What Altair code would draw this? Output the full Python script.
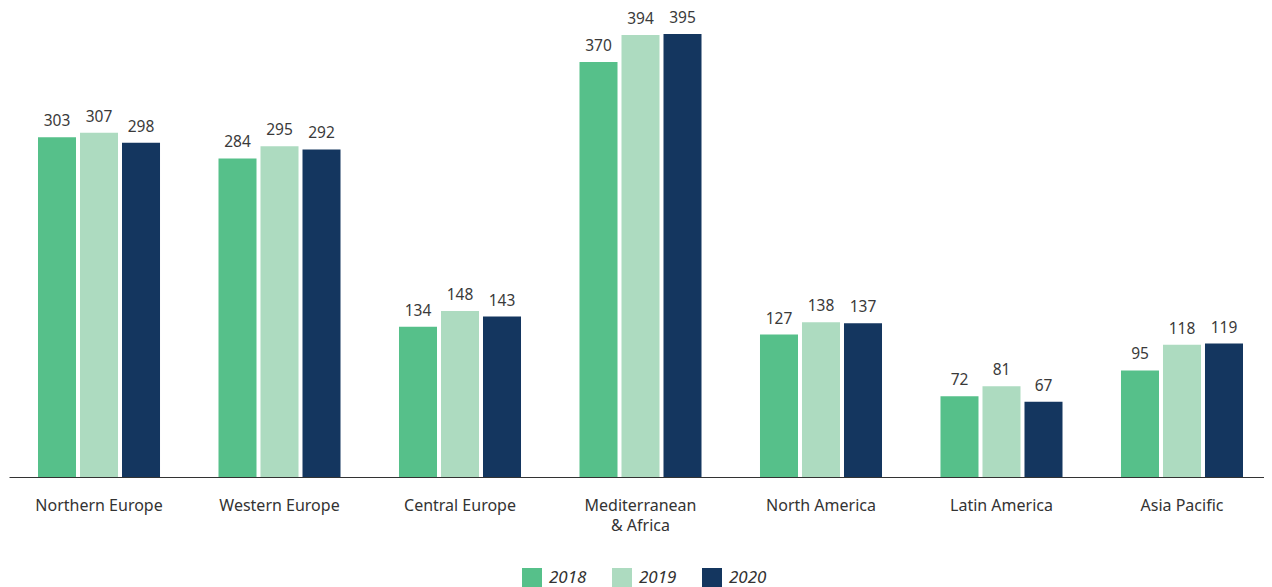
import altair as alt
import pandas as pd

regions = ["Northern Europe", "Western Europe", "Central Europe", "Mediterranean & Africa",
           "North America", "Latin America", "Asia Pacific"]
years = ["2018", "2019", "2020"]
v2018 = [303, 284, 134, 370, 127, 72, 95]
v2019 = [307, 295, 148, 394, 138, 81, 118]
v2020 = [298, 292, 143, 395, 137, 67, 119]
colors = ["#56C08A", "#ADDBC0", "#14365F"]

rows = []
for i, r in enumerate(regions):
    for y, vals in zip(years, [v2018, v2019, v2020]):
        rows.append({"region": r, "year": y, "value": vals[i]})
df = pd.DataFrame(rows)

FONT = "Noto Sans"

x = alt.X("region:N", sort=regions, title=None,
          scale=alt.Scale(paddingInner=0.324, paddingOuter=0.1385, align=0.58),
          axis=alt.Axis(labelAngle=0, ticks=False, domainColor="#333333", domainWidth=1,
                        labelFont=FONT, labelFontSize=16, labelColor="#333333",
                        labelPadding=20, labelLineHeight=20,
                        labelExpr="datum.value == 'Mediterranean & Africa' ? ['Mediterranean', '& Africa'] : datum.value"))
xo = alt.XOffset("year:N", sort=years, scale=alt.Scale(paddingInner=0.095, paddingOuter=0))
y = alt.Y("value:Q", scale=alt.Scale(domain=[0, 412.8], nice=False), axis=None)

bars = alt.Chart(df).mark_bar().encode(
    x=x, xOffset=xo, y=y,
    color=alt.Color("year:N", sort=years,
                    scale=alt.Scale(domain=years, range=colors),
                    legend=alt.Legend(title=None, orient="none", direction="horizontal",
                                      legendX=513, legendY=554,
                                      symbolType="square", symbolSize=400, symbolStrokeWidth=0,
                                      symbolOpacity=1,
                                      labelFont=FONT, labelFontSize=17, labelFontStyle="italic",
                                      labelColor="#333333", labelOffset=7, columnPadding=25)),
)

labels = alt.Chart(df).mark_text(baseline="bottom", dy=-8, font=FONT, fontSize=15.5,
                                 color="#3a3a3a").encode(
    x=x, xOffset=xo, y=y, text="value:Q")

chart = (bars + labels).properties(
    width=1255, height=463,
    padding={"left": 1, "top": 2, "right": 0, "bottom": 0},
    background="white",
).configure_view(stroke=None)

chart.save("out.html", embed_options={"renderer": "svg", "actions": False})
